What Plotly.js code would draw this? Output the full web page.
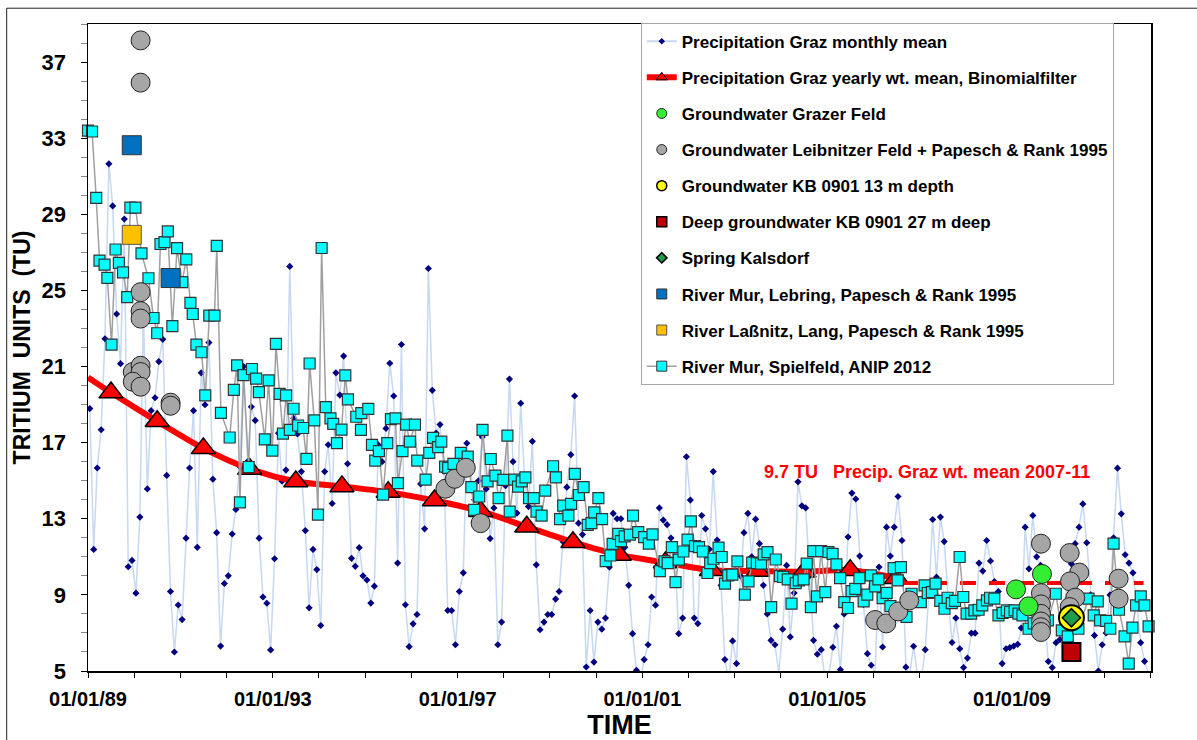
<!DOCTYPE html>
<html>
<head>
<meta charset="utf-8">
<script src="https://cdn.plot.ly/plotly-3.0.1.min.js"></script>
<style>html,body{margin:0;padding:0;background:#fff;}#chart{width:1197px;height:740px;}</style>
</head>
<body>
<div id="chart"></div>
<script>
// ---------- DATA ----------
// Precipitation Graz monthly mean (TU), Jan 1989 .. Dec 2011
const precipStartYear = 1989;
const precipMonthly = [
18.79,11.39,15.67,17.68,22.46,31.65,29.44,23.76,21.15,28.75,10.48,10.81,
9.09,13.09,24.0,14.57,18.68,19.36,21.26,22.43,15.28,9.18,6.0,8.47,
7.70,11.98,15.67,18.68,11.5,20.67,18.99,22.26,15.08,12.27,6.31,9.6,
10.0,12.2,13.49,15.74,21.0,16.0,18.88,18.17,11.98,8.89,8.56,6.11,
10.9,17.5,14.97,15.56,26.26,18.28,17.46,15.48,12.38,8.32,11.39,10.33,
7.39,15.48,16.89,13.8,20.67,19.5,21.55,15.89,10.92,10.5,11.48,10.0,
9.78,8.57,9.46,16.88,16.0,17.75,21.17,19.45,10.67,22.16,8.48,6.28,
7.48,7.97,14.83,12.47,26.15,19.75,17.5,17.95,15.5,8.18,8.18,6.38,
9.18,10.16,16.97,15.5,14.0,15.0,17.3,14.57,11.96,13.57,6.38,7.57,
14.74,20.34,16.0,13.3,19.07,15.0,13.64,17.07,10.58,7.17,7.57,7.97,
7.97,8.78,9.18,11.79,14.66,16.37,19.45,12.77,12.17,5.21,8.18,5.47,
7.57,7.2,7.78,10.46,13.28,13.0,13.0,11.5,9.5,6.96,5.04,4.5,
5.6,6.38,8.89,8.46,13.57,12.93,12.69,11.99,11.0,6.96,7.78,16.26,
13.98,7.78,7.49,13.17,12.47,11.4,15.48,11.88,9.5,5.6,4.5,6.58,
5.39,10.0,12.27,13.28,11.0,12.98,11.69,9.5,8.0,6.61,6.38,4.9,
7.2,10.55,6.79,9.1,14.94,13.68,13.57,10.0,6.61,5.88,6.12,4.6,
4.8,6.25,7.35,5.07,8.0,12.04,14.35,14.04,11.04,8.5,5.91,5.3,
4.9,10.46,6.26,12.56,11.04,12.56,14.17,11.86,5.2,4.8,6.3,4.8,
4.6,6.12,9.0,12.96,9.93,13.09,11.8,8.9,6.5,7.78,6.17,5.18,
5.68,6.99,6.99,10.67,10.25,11.86,10.78,9.7,9.18,5.39,6.17,6.23,
6.31,6.4,7.26,12.56,10.37,13.17,11.0,10.55,8.0,5.5,5.18,6.49,
6.65,8.5,9.5,10.64,11.69,12.56,13.78,11.74,9.0,6.87,5.0,6.38,
7.0,9.0,12.0,15.66,13.26,11.11,10.67,10.16,8.5,6.49,5.51,4.9
];

// Precipitation Graz yearly weighted mean (Binomial filter)
const yearlyYears = [1989.0,1989.5,1990.5,1991.5,1992.5,1993.5,1994.5,1995.5,1996.5,1997.5,1998.5,1999.5,2000.5,2001.5,2002.5,2003.5,2004.5,2005.5,2006.5];
const yearlyTU    = [20.43,19.63,18.12,16.7,15.62,14.96,14.7,14.4,13.96,13.4,12.58,11.77,11.1,10.7,10.3,10.25,10.22,10.3,9.88];

// Mean 2007-11 (dashed)
const meanYears = [2006.62, 2011.85];
const meanTU = [9.62, 9.62];

// River Mur, Spielfeld, ANIP 2012
const murYears = [
1989.00,1989.09,1989.18,1989.25,1989.36,1989.42,1989.51,1989.60,1989.67,1989.76,1989.85,1989.92,
1990.03,1990.16,1990.31,1990.42,1990.50,1990.57,1990.66,1990.73,1990.83,1990.93,
1991.04,1991.13,1991.22,1991.27,1991.35,1991.46,1991.54,1991.63,1991.74,1991.79,1991.88,
1992.07,1992.16,1992.23,1992.29,1992.37,1992.48,1992.55,1992.64,1992.70,1992.83,1992.91,1992.99,
1993.07,1993.15,1993.22,1993.29,1993.37,1993.45,1993.55,1993.66,1993.73,1993.80,1993.90,1993.98,
1994.06,1994.15,1994.25,1994.31,1994.39,1994.49,1994.57,1994.63,1994.81,1994.91,1994.92,
1995.07,1995.15,1995.22,1995.30,1995.39,1995.48,1995.56,1995.66,1995.71,1995.81,1995.89,1995.97,
1996.08,1996.13,1996.31,1996.39,1996.47,1996.58,1996.65,1996.73,1996.80,1996.91,
1997.07,1997.22,1997.30,1997.36,1997.47,1997.54,1997.65,1997.72,1997.82,1997.89,1997.99,
1998.08,1998.13,1998.23,1998.31,1998.39,1998.47,1998.55,1998.65,1998.71,1998.82,1998.90,
1999.07,1999.13,1999.22,1999.29,1999.40,1999.46,1999.54,1999.63,1999.73,1999.82,1999.90,1999.96,
2000.05,2000.13,2000.21,2000.31,2000.36,2000.48,2000.54,2000.62,2000.73,2000.80,2000.91,
2001.04,2001.14,2001.22,2001.38,2001.48,2001.55,2001.64,2001.72,2001.79,2001.89,2001.98,
2002.05,2002.14,2002.23,2002.31,2002.41,2002.47,2002.54,2002.65,2002.72,2002.79,2002.86,2002.95,
2003.06,2003.22,2003.30,2003.38,2003.48,2003.57,2003.63,2003.71,2003.79,2003.89,2003.98,
2004.05,2004.15,2004.23,2004.32,2004.39,2004.49,2004.56,2004.65,2004.70,2004.78,2004.87,2004.96,
2005.03,2005.12,2005.20,2005.28,2005.37,2005.45,2005.53,2005.61,2005.70,2005.79,2005.87,2005.95,
2006.04,2006.11,2006.20,2006.29,2006.37,2006.44,2006.53,2006.60,2006.72,2006.83,
2007.03,2007.11,2007.18,2007.27,2007.35,2007.45,2007.54,2007.61,2007.70,2007.77,2007.87,2007.95,
2008.02,2008.12,2008.19,2008.28,2008.36,2008.46,2008.53,2008.62,2008.71,2008.80,2008.89,2008.96,
2009.06,2009.14,2009.23,2009.36,2009.47,2009.58,2009.68,2009.78,2009.95,
2010.08,2010.21,2010.44,2010.66,2010.77,2010.86,2010.91,
2011.04,2011.13,2011.20,2011.32,2011.44,2011.53,2011.61,2011.69,2011.79,2011.87,2011.96
];
const murTU = [
33.4,33.35,29.86,26.57,26.35,25.66,22.15,27.15,26.45,25.95,24.65,29.35,
29.35,26.95,25.64,23.55,22.75,27.44,27.54,28.1,23.12,27.22,
25.44,26.63,24.34,23.76,22.15,21.75,19.48,23.68,23.68,27.34,18.56,
17.27,19.77,21.06,13.86,20.55,15.72,20.87,20.36,19.65,17.17,20.27,16.58,
22.19,19.56,17.47,19.48,17.67,18.78,17.9,17.77,16.15,21.16,18.17,13.22,
27.23,18.87,18.28,17.99,16.98,17.68,20.54,19.27,18.36,17.67,18.55,
18.77,16.88,16.06,16.55,14.27,16.97,18.24,18.28,14.87,16.55,17.95,17.05,
17.95,16.06,15.06,16.46,17.25,16.76,17.05,15.74,15.67,15.88,
16.46,16.27,14.66,13.47,14.17,17.67,14.97,16.14,15.27,14.08,15.04,
17.37,13.38,15.06,14.69,14.97,15.18,14.08,14.08,13.38,13.17,14.48,
15.76,15.18,12.98,13.69,13.17,13.78,15.36,14.25,14.66,12.68,12.77,13.34,
14.08,12.98,10.77,11.07,11.68,12.21,11.82,12.07,12.17,13.17,12.3,
12.04,11.69,12.18,10.25,10.76,10.67,11.51,9.67,10.85,11.28,11.9,
12.86,11.56,11.51,11.28,10.15,10.67,10.9,11.48,10.99,9.59,10.02,10.06,
10.76,9.01,9.71,10.69,10.67,10.64,11.13,11.25,8.36,10.86,9.99,
9.94,9.81,8.54,9.62,9.76,9.81,10.64,8.36,11.3,8.92,11.3,9.15,
11.25,11.16,10.6,9.88,8.62,8.31,9.2,9.32,9.88,8.66,9.01,10.02,
9.45,9.81,8.83,9.11,8.41,10.41,9.76,10.46,7.84,9.06,
8.62,9.5,9.1,9.15,9.59,8.68,8.27,8.85,8.57,8.68,10.99,8.89,
8.01,8.01,8.19,8.22,8.45,8.71,8.85,8.8,7.92,8.05,8.19,8.1,
8.19,8.01,7.92,7.22,7.5,7.3,7.9,7.66,9.06,
7.14,6.82,7.22,8.8,7.92,8.66,7.66,
7.63,7.22,11.69,8.22,6.82,5.39,7.28,8.45,8.92,8.45,7.35
];

// Groundwater Leibnitzer Feld + Papesch & Rank 1995
const leibYears = [1990.14,1990.14,1990.14,1990.14,1990.14,1989.97,1990.14,1990.14,1989.97,1990.14,1990.79,1990.79,
1996.74,1996.94,1997.18,1997.5,2006.04,2006.28,2006.54,2006.78,
2009.63,2009.63,2009.63,2009.63,2009.63,2009.63,2009.63,
2010.25,2010.46,2010.26,2010.37,2010.25,2011.31,2011.31];
const leibTU = [38.14,35.92,24.91,23.91,23.52,20.71,21.04,20.71,20.2,19.94,19.1,18.94,
14.58,15.1,15.68,12.77,7.68,7.5,8.13,8.71,
11.69,9.09,8.5,8.0,7.6,7.3,7.05,
11.2,10.17,9.71,8.85,8.36,9.85,8.8];

// Groundwater Grazer Feld
const grazYears = [2009.09, 2009.36, 2009.65];
const grazTU = [9.29, 8.4, 10.1];

// Groundwater KB 0901 13 m depth
const kb13Years = [2010.29];
const kb13TU = [7.8];

// Deep groundwater KB 0901 27 m deep
const kb27Years = [2010.29];
const kb27TU = [6.0];

// Spring Kalsdorf
const springYears = [2010.29];
const springTU = [7.8];

// River Mur, Lebring, Papesch & Rank 1995
const lebringYears = [1989.95, 1990.79];
const lebringTU = [32.63, 25.65];

// River Laßnitz, Lang, Papesch & Rank 1995
const lassnitzYears = [1989.95];
const lassnitzTU = [27.92];

// Axis tick labels
const yTickVals = [5, 9, 13, 17, 21, 25, 29, 33, 37];

// Legend labels
const legendNames = [
  'Precipitation Graz monthly mean',
  'Precipitation Graz yearly wt. mean, Binomialfilter',
  'Groundwater Grazer Feld',
  'Groundwater Leibnitzer Feld + Papesch & Rank 1995',
  'Groundwater KB 0901 13 m depth',
  'Deep groundwater KB 0901 27 m deep',
  'Spring Kalsdorf',
  'River Mur, Lebring, Papesch & Rank 1995',
  'River Laßnitz, Lang, Papesch & Rank 1995',
  'River Mur, Spielfeld, ANIP 2012'
];

// ---------- HELPERS ----------
function yearToDate(y) {
  const yr = Math.floor(y);
  const s = Date.UTC(yr, 0, 1), e = Date.UTC(yr + 1, 0, 1);
  const d = new Date(s + (y - yr) * (e - s));
  return d.toISOString().slice(0, 10);
}
const toDates = arr => arr.map(yearToDate);
const precipDates = precipMonthly.map((v, i) => {
  const y = precipStartYear + Math.floor(i / 12);
  const m = (i % 12) + 1;
  return y + '-' + String(m).padStart(2, '0') + '-15';
});

const FONT = 'Liberation Sans, Arial, sans-serif';

// Styles (main plot)
const S = {
  precip:  {mode: 'lines+markers', line: {color: '#c6d9f1', width: 1.5}, marker: {symbol: 'diamond', color: '#000080', size: 5.5}},
  yearlyLine: {mode: 'lines', line: {color: '#ff0000', width: 6, shape: 'spline', smoothing: 0.8}},
  yearlyPts:  {mode: 'markers', marker: {symbol: 'triangle-up', color: '#ff0000', size: 21, line: {color: '#000', width: 1.5}}},
  graz:    {mode: 'markers', marker: {symbol: 'circle', color: '#33ee33', size: 19, line: {color: '#222', width: 1}}},
  leib:    {mode: 'markers', marker: {symbol: 'circle', color: '#a6a6a6', size: 19, line: {color: '#222', width: 1}}},
  kb13:    {mode: 'markers', marker: {symbol: 'circle', color: '#ffff00', size: 25, line: {color: '#000', width: 2}}},
  kb27:    {mode: 'markers', marker: {symbol: 'square', color: '#c00000', size: 18, line: {color: '#000', width: 2}}},
  spring:  {mode: 'markers', marker: {symbol: 'diamond', color: '#1e9e4a', size: 14, line: {color: '#000', width: 1.5}}},
  lebring: {mode: 'markers', marker: {symbol: 'square', color: '#0070c0', size: 19, line: {color: '#333', width: 1}}},
  lass:    {mode: 'markers', marker: {symbol: 'square', color: '#ffc000', size: 19, line: {color: '#555', width: 1}}},
  mur:     {mode: 'lines+markers', line: {color: '#a0a0a0', width: 1.5}, marker: {symbol: 'square', color: '#00ffff', size: 11, line: {color: '#333', width: 1.2}}}
};
// Smaller symbols for the legend
const L = {
  precip:  {mode: 'lines+markers', line: {color: '#c6d9f1', width: 2}, marker: {symbol: 'diamond', color: '#000080', size: 5}},
  yearly:  {mode: 'lines+markers', line: {color: '#ff0000', width: 6}, marker: {symbol: 'triangle-up', color: '#ff0000', size: 10, line: {color: '#000', width: 1}}},
  graz:    {mode: 'markers', marker: {symbol: 'circle', color: '#33ee33', size: 10, line: {color: '#222', width: 1}}},
  leib:    {mode: 'markers', marker: {symbol: 'circle', color: '#a6a6a6', size: 10, line: {color: '#222', width: 1}}},
  kb13:    {mode: 'markers', marker: {symbol: 'circle', color: '#ffff00', size: 10, line: {color: '#000', width: 1.5}}},
  kb27:    {mode: 'markers', marker: {symbol: 'square', color: '#c00000', size: 10, line: {color: '#000', width: 1.5}}},
  spring:  {mode: 'markers', marker: {symbol: 'diamond', color: '#1e9e4a', size: 8, line: {color: '#000', width: 1.5}}},
  lebring: {mode: 'markers', marker: {symbol: 'square', color: '#0070c0', size: 10, line: {color: '#333', width: 1}}},
  lass:    {mode: 'markers', marker: {symbol: 'square', color: '#ffc000', size: 10, line: {color: '#555', width: 1}}},
  mur:     {mode: 'lines+markers', line: {color: '#a0a0a0', width: 1.5}, marker: {symbol: 'square', color: '#00ffff', size: 10, line: {color: '#333', width: 1}}}
};

function dataTrace(name, xs, ys, st, extra) {
  return Object.assign({name: name, x: xs, y: ys, type: 'scatter', showlegend: false}, st, extra || {});
}

const yearlyDates = toDates(yearlyYears);
const dataTraces = [
  dataTrace(legendNames[0], precipDates, precipMonthly, S.precip),
  dataTrace(legendNames[1], yearlyDates, yearlyTU, S.yearlyLine),
  dataTrace(legendNames[1], yearlyDates.slice(1), yearlyTU.slice(1), S.yearlyPts),
  dataTrace('mean 2007-11', toDates(meanYears), meanTU, {mode: 'lines', line: {color: '#ff0000', width: 4, dash: '16px,13px'}}),
  dataTrace(legendNames[9], toDates(murYears), murTU, S.mur, {cliponaxis: false}),
  dataTrace(legendNames[3], toDates(leibYears), leibTU, S.leib, {cliponaxis: false}),
  dataTrace(legendNames[2], toDates(grazYears), grazTU, S.graz),
  dataTrace(legendNames[7], toDates(lebringYears), lebringTU, S.lebring),
  dataTrace(legendNames[8], toDates(lassnitzYears), lassnitzTU, S.lass),
  dataTrace(legendNames[4], toDates(kb13Years), kb13TU, S.kb13),
  dataTrace(legendNames[6], toDates(springYears), springTU, S.spring),
  dataTrace(legendNames[5], toDates(kb27Years), kb27TU, S.kb27)
];

// legend-only entries (no data drawn), in the reference order
const legendKeys = ['precip', 'yearly', 'graz', 'leib', 'kb13', 'kb27', 'spring', 'lebring', 'lass', 'mur'];
const legendTraces = legendKeys.map((k, i) => Object.assign({
  name: legendNames[i], x: [null], y: [null], type: 'scatter', showlegend: true,
  legendrank: i + 1, legendgroup: 'g' + i, hoverinfo: 'skip'
}, L[k]));

const layout = {
  width: 1197, height: 740,
  margin: {l: 88, r: 46, t: 24, b: 69},
  paper_bgcolor: '#fff', plot_bgcolor: '#fff',
  font: {family: FONT, color: '#000'},
  showlegend: true,
  legend: {
    x: 0.52, y: 1.002, xanchor: 'left', yanchor: 'top',
    bgcolor: '#fff', bordercolor: '#a6a6a6', borderwidth: 1,
    font: {family: FONT, size: 17, weight: 'bold', color: '#000'},
    tracegroupgap: 11, itemsizing: 'trace', traceorder: 'grouped'
  },
  xaxis: {
    type: 'date', range: ['1989-01-01', '2012-01-05'],
    tick0: '1989-01-01', dtick: 'M48', tickformat: '%d/%m/%y',
    ticks: 'outside', ticklen: 5, tickwidth: 1, tickcolor: '#000',
    minor: {dtick: 'M12', ticks: 'outside', ticklen: 5, tickcolor: '#000', showgrid: false},
    showline: true, linecolor: '#000', linewidth: 1.5, mirror: true,
    showgrid: false, zeroline: false,
    tickfont: {family: FONT, size: 20, weight: 'bold', color: '#000'},
    ticklabelstandoff: 4,
    title: {text: 'TIME', font: {family: FONT, size: 27, weight: 'bold', color: '#000'}, standoff: 6}
  },
  yaxis: {
    range: [5, 39], tickvals: yTickVals,
    ticks: 'outside', ticklen: 6, tickcolor: '#000',
    minor: {dtick: 1, ticks: 'outside', ticklen: 6, tickcolor: '#888', showgrid: false},
    showline: true, linecolor: '#000', linewidth: 1.5, mirror: true,
    showgrid: false, zeroline: false,
    tickfont: {family: FONT, size: 22, weight: 'bold', color: '#000'},
    ticklabelstandoff: 10,
    title: {text: 'TRITIUM\u00A0\u00A0UNITS\u00A0\u00A0(TU)', font: {family: FONT, size: 23, weight: 'bold', color: '#000'}, standoff: 4}
  },
  annotations: [
    {
      xref: 'x', yref: 'y', x: yearToDate(2003.59), y: 15.48,
      xanchor: 'left', yanchor: 'middle', showarrow: false,
      text: '9.7 TU\u00A0\u00A0\u00A0Precip. Graz wt. mean 2007-11',
      font: {family: FONT, size: 18, weight: 'bold', color: '#ff0000'}
    }
  ],
  shapes: [
    {type: 'rect', xref: 'paper', yref: 'paper', x0: -0.0765, x1: 1.2, y0: -0.3, y1: 1.0244,
     line: {color: '#222', width: 1}, fillcolor: 'rgba(0,0,0,0)', layer: 'below'}
  ]
};

Plotly.newPlot('chart', dataTraces.concat(legendTraces), layout, {staticPlot: true, displayModeBar: false});
</script>
</body>
</html>
